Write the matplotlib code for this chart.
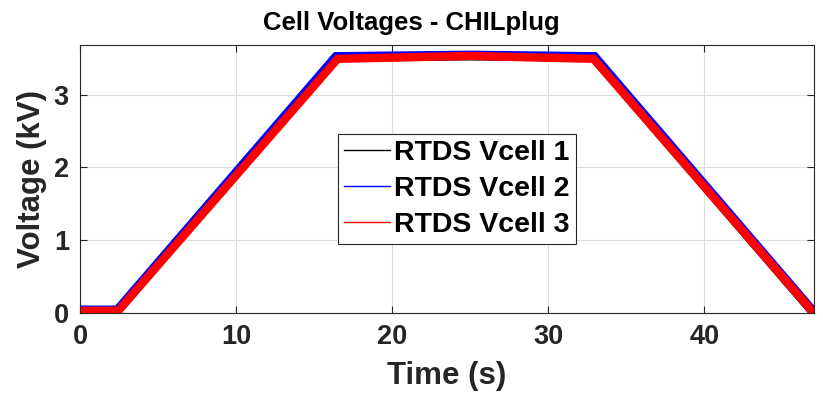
import matplotlib.pyplot as plt

plt.rcParams['font.family'] = ['Liberation Sans', 'DejaVu Sans']
plt.rcParams['font.weight'] = 'bold'

# breakpoints of the three cell voltage traces (time in s, voltage in kV)
t_cell1 = [0, 2.4, 16.4, 25.0, 32.9, 47.0]
v_cell1 = [0.03, 0.03, 3.51, 3.53, 3.51, 0.0]
t_cell2 = [0, 2.4, 16.4, 25.0, 32.95, 47.05]
v_cell2 = [0.04, 0.04, 3.52, 3.54, 3.52, 0.0]
t_cell3 = [0, 2.45, 16.5, 25.0, 32.9, 47.0]
v_cell3 = [0.03, 0.03, 3.49, 3.53, 3.49, 0.0]

labels = ['RTDS Vcell 1', 'RTDS Vcell 2', 'RTDS Vcell 3']
xticks = [0, 10, 20, 30, 40]
yticks = [0, 1, 2, 3]

fig = plt.figure(figsize=(8.23, 3.94), dpi=100)
ax = fig.add_axes([0.0972, 0.2056, 0.8916, 0.6802])

ax.plot(t_cell1, v_cell1, color='black', lw=6.5, solid_joinstyle='miter')
ax.plot(t_cell2, v_cell2, color='#0000ff', lw=6.6, solid_joinstyle='miter')
ax.plot(t_cell3, v_cell3, color='#ff0000', lw=6.0, solid_joinstyle='miter')

# thin proxies for the legend
h = [plt.Line2D([], [], color=c, lw=1.0) for c in ['black', '#0000ff', '#ff0000']]
leg = ax.legend(h, labels, loc='upper left', bbox_to_anchor=(0.3518, 0.668),
                fontsize=20.5, handlelength=1.6, handletextpad=0.15,
                labelspacing=0.34, borderpad=0.22, borderaxespad=0,
                fancybox=False, framealpha=1, edgecolor='#262626')
leg.get_frame().set_linewidth(0.8)
for txt in leg.get_texts():
    txt.set_fontweight('bold')

ax.set_xlim(0, 47)
ax.set_ylim(0, 3.68)
ax.set_xticks(xticks)
ax.set_yticks(yticks)
ax.grid(True, color='#dcdcdc', lw=0.8)
ax.set_axisbelow(True)
ax.tick_params(direction='in', top=True, right=True, length=5, width=0.8,
               labelsize=19.5, colors='#262626', pad=8)
for lbl in ax.get_xticklabels() + ax.get_yticklabels():
    lbl.set_fontweight('bold')
for s in ax.spines.values():
    s.set_color('#262626')
    s.set_linewidth(0.8)

ax.set_xlabel('Time (s)', fontsize=22.5, fontweight='bold', color='#262626', labelpad=8)
ax.set_ylabel('Voltage (kV)', fontsize=22.5, fontweight='bold', color='#262626', labelpad=5)
ax.set_title('Cell Voltages - CHILplug', fontsize=18.5, fontweight='bold',
             x=0.4515, pad=11)

fig.savefig('out.png', dpi=100)
